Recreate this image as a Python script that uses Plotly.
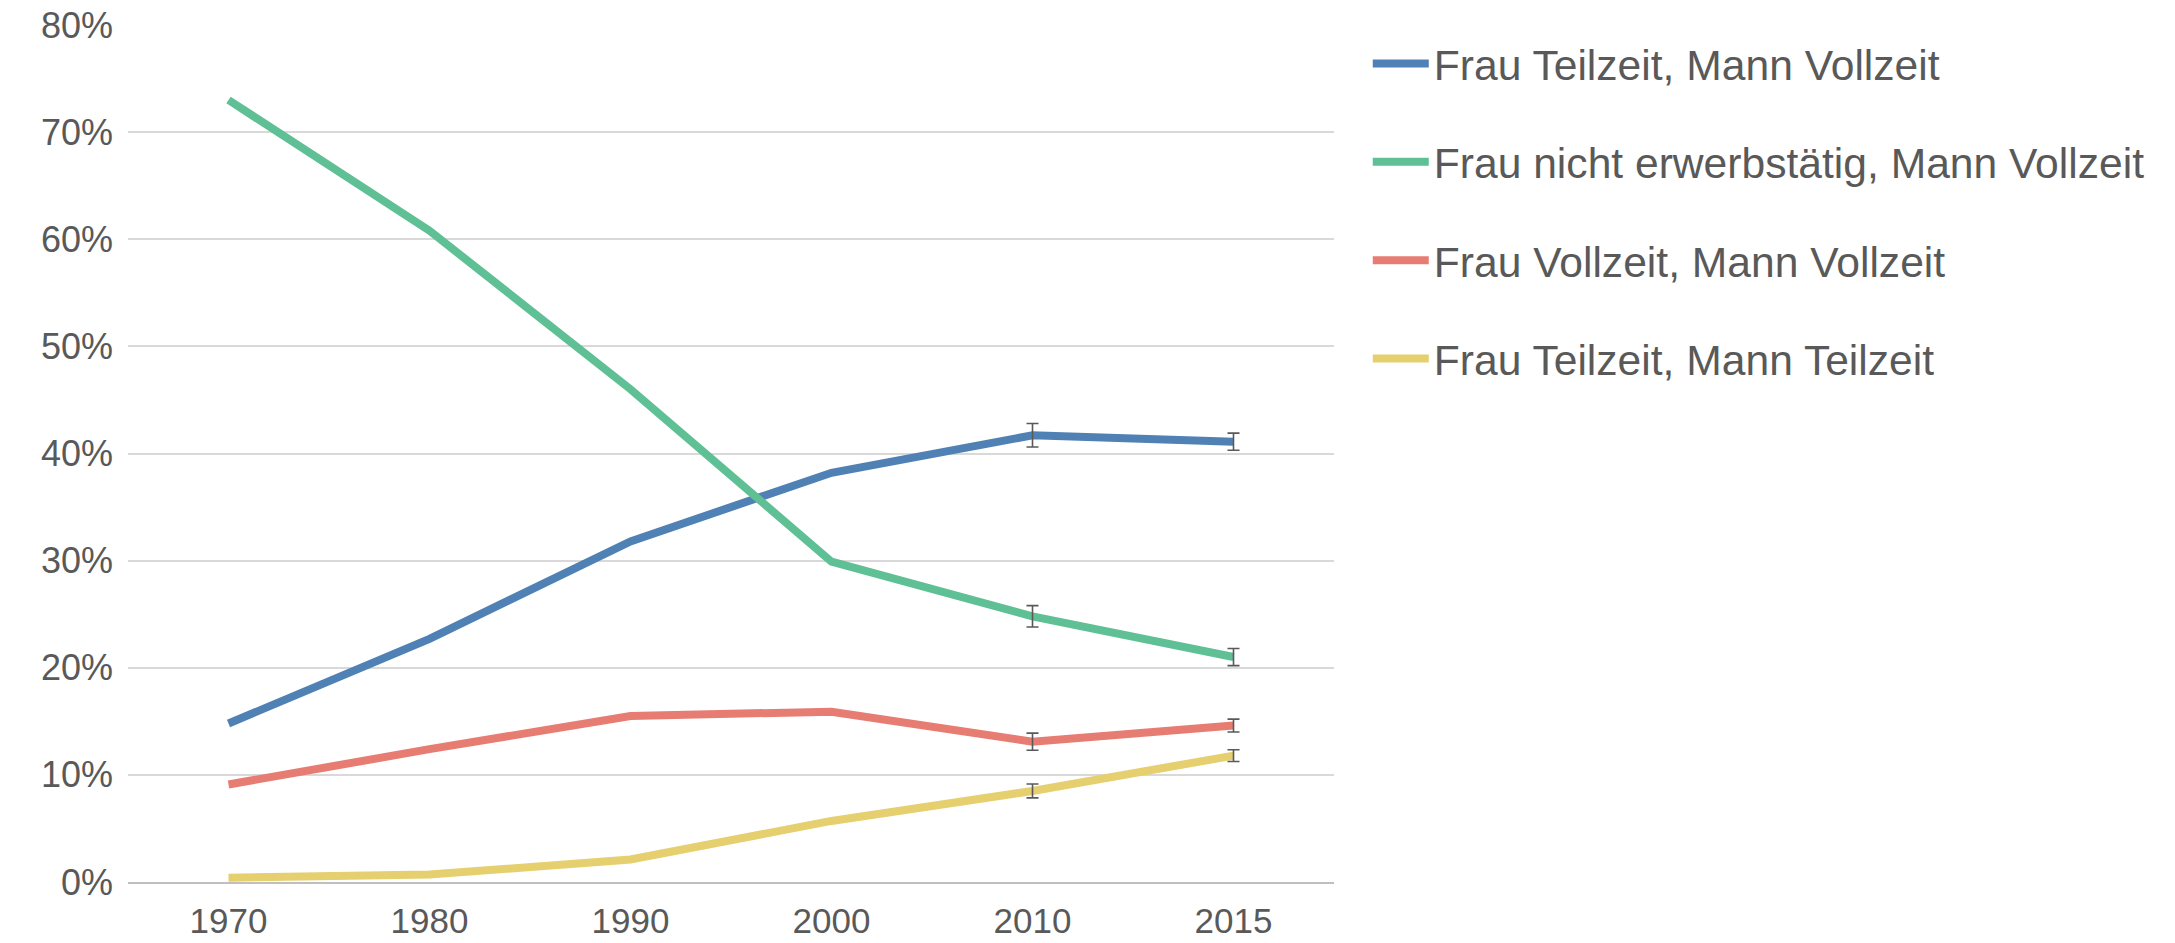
import plotly.graph_objects as go

years = ["1970", "1980", "1990", "2000", "2010", "2015"]
series_names = [
    "Frau Teilzeit, Mann Vollzeit",
    "Frau nicht erwerbstätig, Mann Vollzeit",
    "Frau Vollzeit, Mann Vollzeit",
    "Frau Teilzeit, Mann Teilzeit",
]
teil_voll = [0.148, 0.227, 0.318, 0.382, 0.417, 0.411]
nicht_voll = [0.730, 0.608, 0.460, 0.299, 0.248, 0.210]
voll_voll = [0.091, 0.124, 0.155, 0.159, 0.131, 0.146]
teil_teil = [0.004, 0.007, 0.021, 0.057, 0.085, 0.118]

# error bars exist only for 2010 and 2015
err_years = ["2010", "2015"]
err_teil_voll = [0.011, 0.008]
err_nicht_voll = [0.010, 0.008]
err_voll_voll = [0.008, 0.006]
err_teil_teil = [0.0065, 0.0055]

colors = ["#4F81B5", "#5FBF95", "#E77C72", "#E5CF6E"]
values = [teil_voll, nicht_voll, voll_voll, teil_teil]
errors = [err_teil_voll, err_nicht_voll, err_voll_voll, err_teil_teil]

text_color = "#595959"
font_fam = "Liberation Sans, Arial, sans-serif"

fig = go.Figure()
for name, vals, col in zip(series_names, values, colors):
    fig.add_trace(go.Scatter(
        x=years, y=vals, name=name, mode="lines",
        line=dict(color=col, width=8),
        legendgroup=name,
    ))
for name, vals, err in zip(series_names, values, errors):
    sub = [vals[years.index(y)] for y in err_years]
    fig.add_trace(go.Scatter(
        x=err_years, y=sub, mode="markers", showlegend=False,
        legendgroup=name, hoverinfo="skip",
        marker=dict(size=1, opacity=0),
        error_y=dict(type="data", array=err, visible=True,
                     color="#595959", thickness=1.6, width=6),
    ))

fig.update_layout(
    width=2175, height=943,
    paper_bgcolor="white", plot_bgcolor="white",
    margin=dict(l=128, r=841, t=25, b=61, autoexpand=False),
    showlegend=True,
    legend=dict(
        x=1.028, xanchor="left", y=0.995, yanchor="top",
        font=dict(family=font_fam, size=42.6, color=text_color),
        tracegroupgap=40, bgcolor="rgba(0,0,0,0)",
        itemwidth=56,
    ),
    xaxis=dict(
        type="category", range=[-0.5, 5.5], automargin=False,
        showgrid=False, showline=True, linecolor="#BFBFBF", linewidth=2,
        ticks="", tickfont=dict(family=font_fam, size=35, color=text_color),
        ticklabelstandoff=7,
    ),
    yaxis=dict(
        range=[0, 0.8], dtick=0.1, tickformat=".0%", automargin=False,
        showgrid=True, gridcolor="#D9D9D9", gridwidth=1.5,
        zeroline=False, showline=False, ticks="",
        tickfont=dict(family=font_fam, size=36, color=text_color),
        ticklabelstandoff=14,
    ),
)

fig.write_html(
    "out.html",
    config={"displayModeBar": False},
    post_script="document.body.style.margin='0';document.body.style.overflow='hidden';",
)
